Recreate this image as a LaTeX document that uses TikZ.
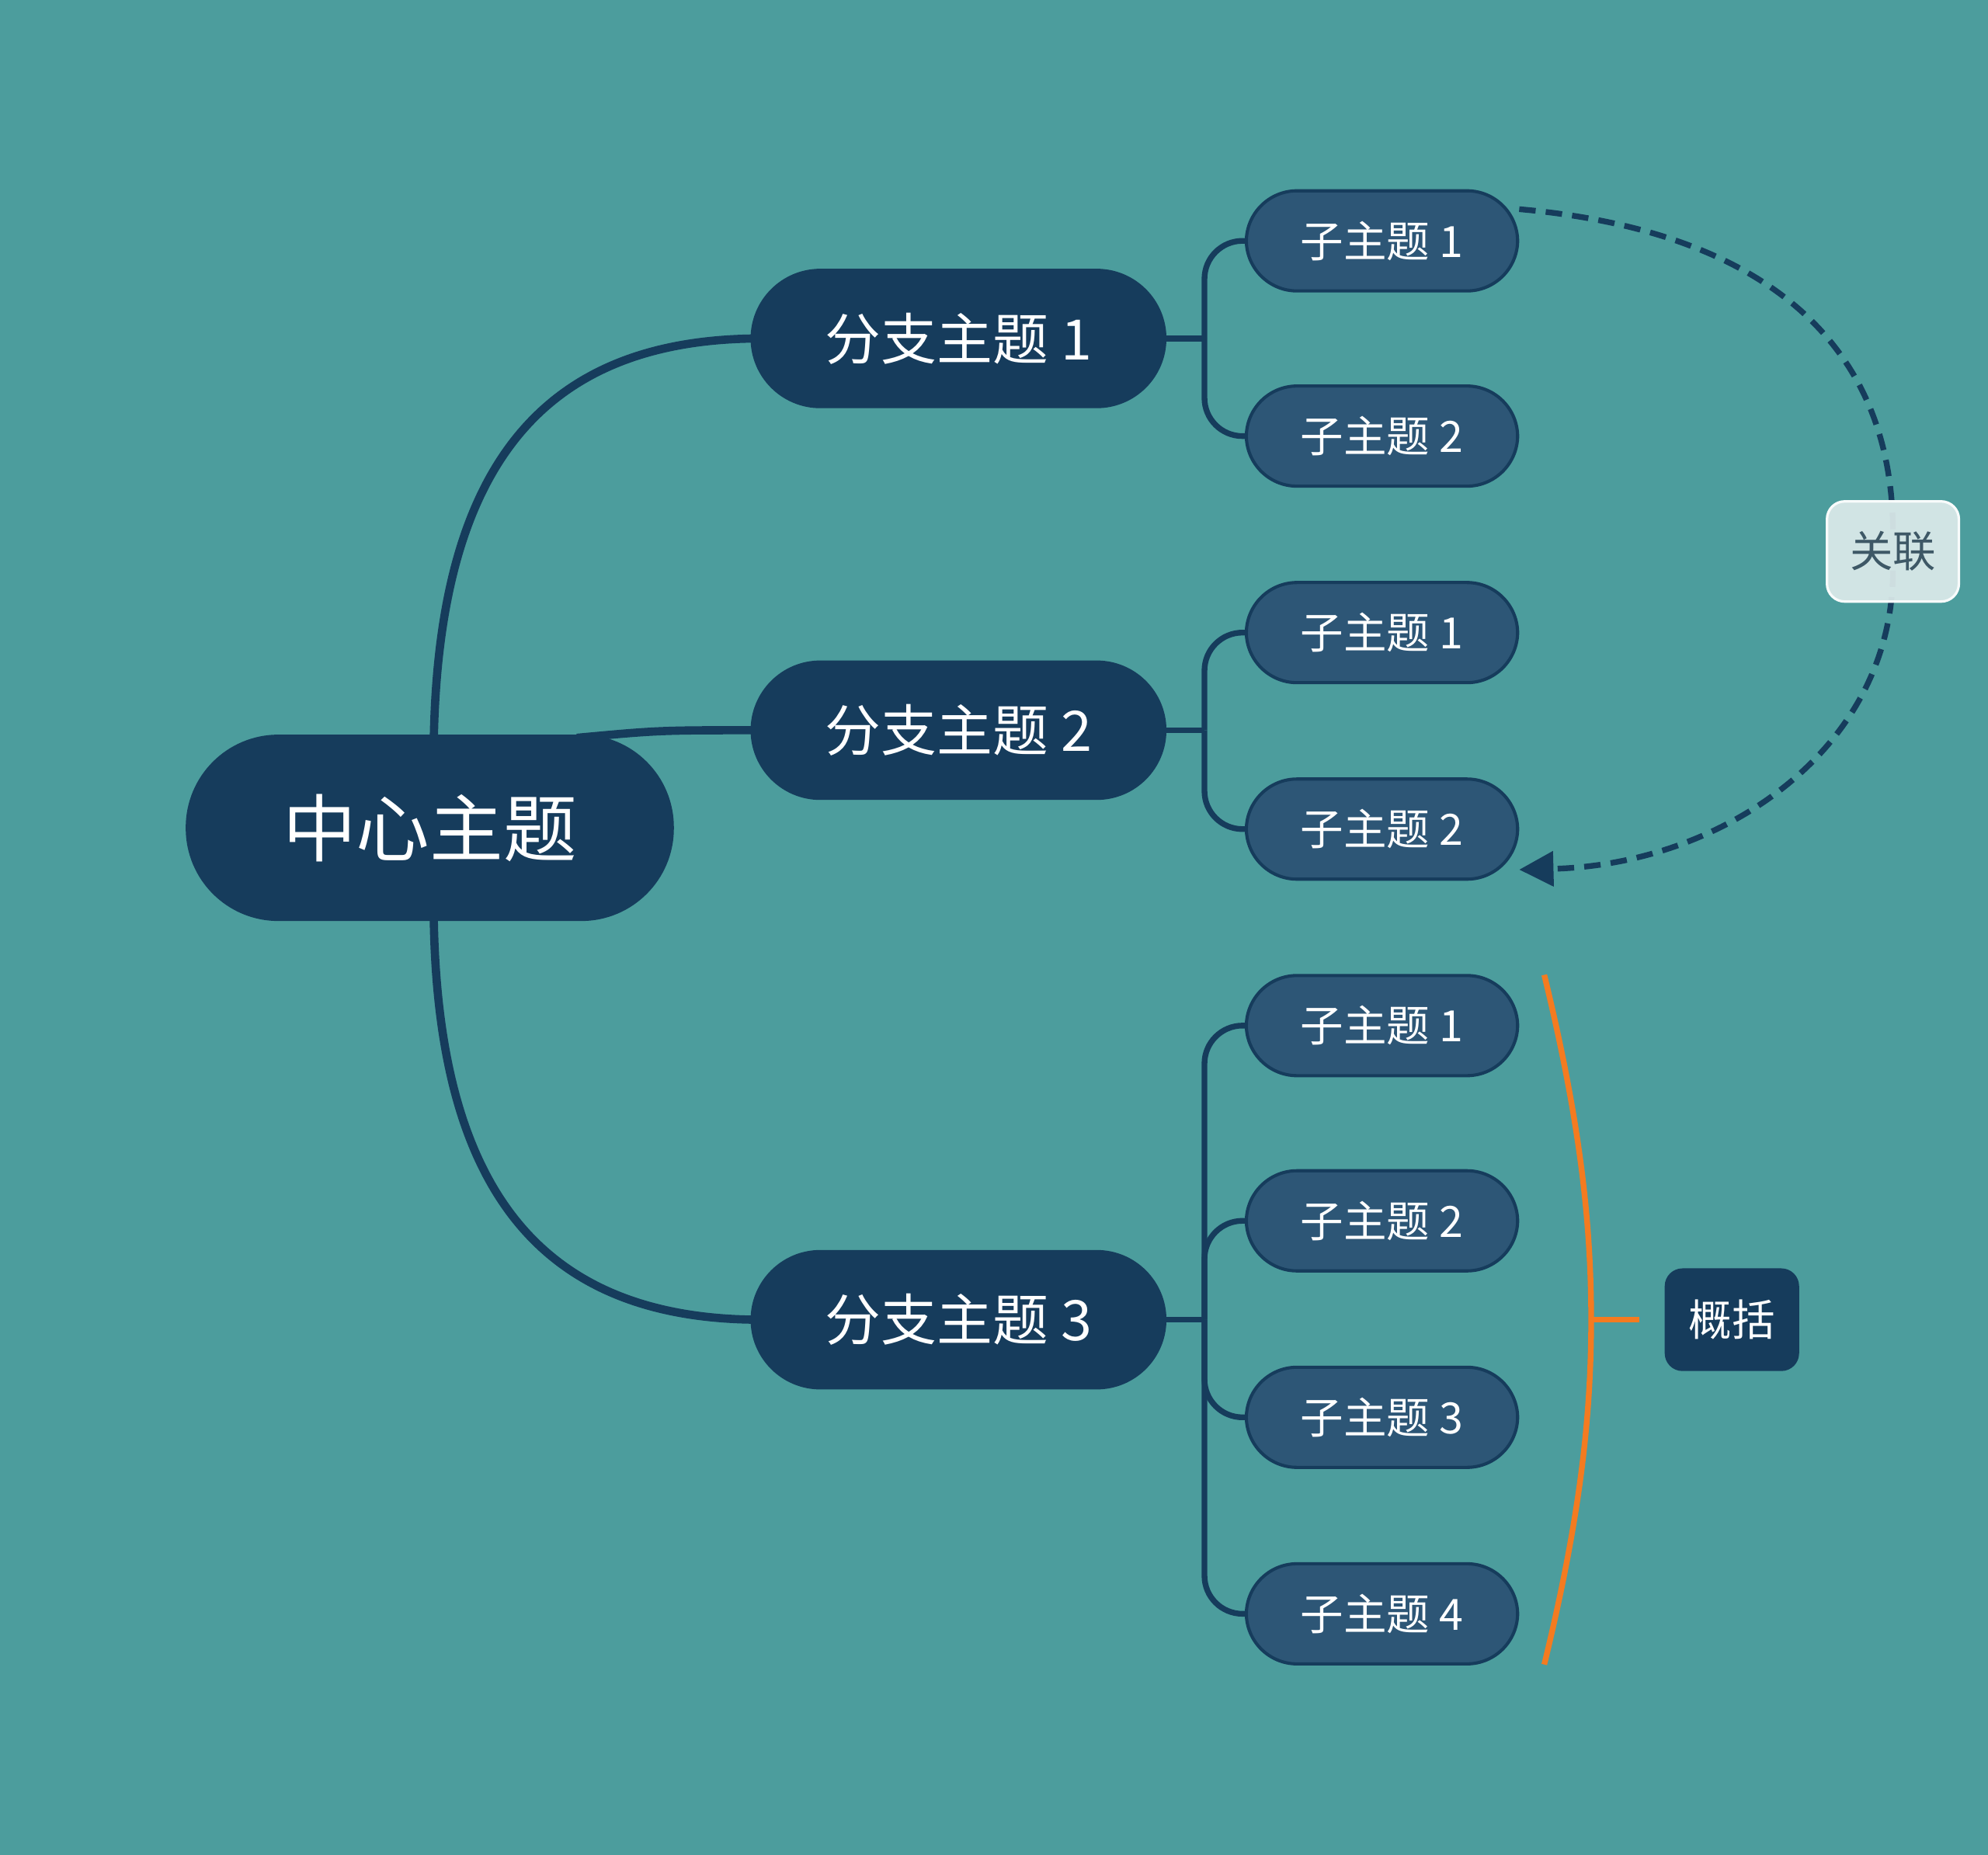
\documentclass[tikz,border=0pt]{standalone}
\usepackage{fontspec}
\setmainfont{Noto Sans CJK SC}
\usetikzlibrary{arrows.meta}
\definecolor{bgc}{HTML}{4C9D9D}
\definecolor{navy}{HTML}{163C5C}
\definecolor{subc}{HTML}{2D5676}
\definecolor{labc}{HTML}{DDEBEB}
\definecolor{labt}{HTML}{3E5866}
\definecolor{orng}{HTML}{F47B20}
\tikzset{
  centralbox/.style={fill=navy, text=white, rounded corners=73pt, minimum width=385pt, minimum height=147pt, inner sep=0pt, font=\fontsize{58}{60}\selectfont},
  branchbox/.style={fill=navy, text=white, rounded corners=55pt, minimum width=328pt, minimum height=110pt, inner sep=0pt, font=\fontsize{44}{46}\selectfont},
  subbox/.style={fill=subc, draw=navy, line width=2.5pt, text=white, rounded corners=40pt, minimum width=214pt, minimum height=79pt, inner sep=0pt, font=\fontsize{34}{36}\selectfont},
  relbox/.style={fill=labc, fill opacity=0.92, text opacity=1, draw=white!80!labc, line width=2pt, text=labt, rounded corners=14pt, minimum width=104pt, minimum height=79pt, inner sep=0pt, font=\fontsize{34}{36}\selectfont},
  sumbox/.style={fill=navy, text=white, rounded corners=14pt, minimum width=106pt, minimum height=81pt, inner sep=0pt, font=\fontsize{34}{36}\selectfont},
  mainline/.style={draw=navy, line width=6.5pt},
  joinline/.style={draw=navy, line width=4.5pt},
  subline/.style={draw=navy, line width=4.5pt, rounded corners=30pt},
  relline/.style={draw=navy, line width=4.5pt, dash pattern=on 13pt off 8pt},
  sumline/.style={draw=orng, line width=4.5pt}
}
\begin{document}
\begin{tikzpicture}[x=1pt,y=-1pt]
\useasboundingbox (0,0) rectangle (1568,1463);
\fill[bgc] (0,0) rectangle (1568,1463);

% connectors central -> branches (drawn first)
\coordinate (c1) at (342,600);
\coordinate (c2) at (455,582);
\coordinate (c3) at (342,710);
\coordinate (b1w) at (600,267);
\coordinate (b2w) at (600,576);
\coordinate (b3w) at (600,1041);
\draw[mainline] (c1) .. controls (342,371) and (425,267) .. (b1w);
\draw[mainline] (c2) .. controls (520,576) .. (b2w);
\draw[mainline] (c3) .. controls (342,937) and (425,1041) .. (b3w);

% nodes
\node[centralbox] (c) at (339,653) {中心主题};
\node[branchbox] (b1) at (756,267) {分支主题 1};
\node[branchbox] (b2) at (756,576) {分支主题 2};
\node[branchbox] (b3) at (756,1041) {分支主题 3};

% branch -> sub connectors
\coordinate (j1) at (950,267);
\coordinate (j2) at (950,576);
\coordinate (j3) at (950,1041);
\draw[joinline] (b1.east) -- (j1);
\draw[joinline] (b2.east) -- (j2);
\draw[joinline] (b3.east) -- (j3);
\coordinate (t11) at (990,190);
\coordinate (t12) at (990,344);
\coordinate (t21) at (990,499);
\coordinate (t22) at (990,654);
\coordinate (t31) at (990,809);
\coordinate (t32) at (990,963);
\coordinate (t33) at (990,1118);
\coordinate (t34) at (990,1273);
\foreach \j/\s in {j1/t11, j1/t12, j2/t21, j2/t22, j3/t31, j3/t32, j3/t33, j3/t34}
  \draw[subline] (\j) |- (\s);

\node[subbox] (s11) at (1090,190) {子主题 1};
\node[subbox] (s12) at (1090,344) {子主题 2};
\node[subbox] (s21) at (1090,499) {子主题 1};
\node[subbox] (s22) at (1090,654) {子主题 2};
\node[subbox] (s31) at (1090,809) {子主题 1};
\node[subbox] (s32) at (1090,963) {子主题 2};
\node[subbox] (s33) at (1090,1118) {子主题 3};
\node[subbox] (s34) at (1090,1273) {子主题 4};

% relation
\coordinate (rtop) at (1493,420);
\coordinate (rbot) at (1493,450);
\draw[relline] ([yshift=25pt]s11.east) .. controls (1390,182) and (1493,270) .. (rtop);
\draw[relline, -{Triangle[length=27pt,width=27pt]}] (rbot) .. controls (1493,590) and (1360,682) .. ([yshift=-32pt]s22.east);
\node[relbox] (rel) at (1493,435) {关联};

% summary
\coordinate (sa) at (1218,769);
\coordinate (sm) at (1255,1041);
\coordinate (sb) at (1218,1313);
\node[sumbox] (sum) at (1366,1041) {概括};
\draw[sumline] (sa) .. controls (1245,880) and (1255,960) .. (sm) .. controls (1255,1122) and (1245,1202) .. (sb);
\draw[sumline] (sm) -- ([xshift=-20pt]sum.west);
\end{tikzpicture}
\end{document}
